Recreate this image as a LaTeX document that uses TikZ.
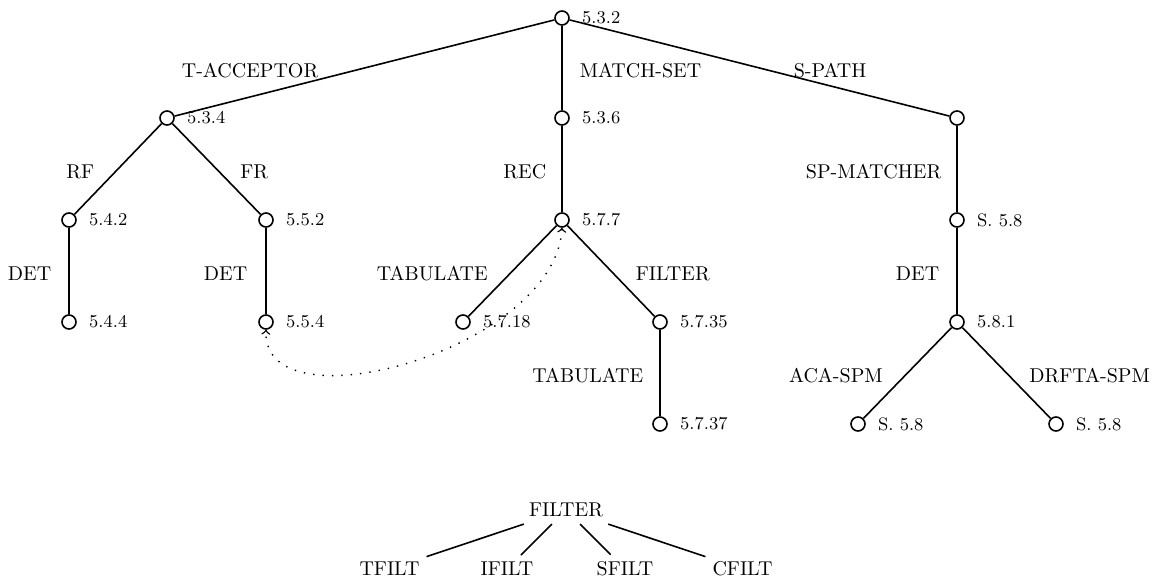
\documentclass[tikz,border=0pt]{standalone}
\usetikzlibrary{positioning}

\tikzset{
  vtx/.style={circle, draw, thick, inner sep=0pt, minimum size=7pt},
  num/.style={font=\small, inner sep=1pt},
  elbl/.style={inner sep=0pt, yshift=-1.5pt},
  branch/.style={thick},
}

\begin{document}
\begin{tikzpicture}[x=0.5pt, y=-0.5pt]
    \useasboundingbox (0,0) rectangle (1161,581);

    % Vertices of the main tree
    \node[vtx] (n532) at (562,18) {};
    \node[vtx] (n534) at (167,118) {};
    \node[vtx] (n536) at (562,118) {};
    \node[vtx] (nsp) at (957,118) {};
    \node[vtx] (n542) at (69,220) {};
    \node[vtx] (n552) at (266,220) {};
    \node[vtx] (n577) at (562,220) {};
    \node[vtx] (ns58) at (957,220) {};
    \node[vtx] (n544) at (69,322) {};
    \node[vtx] (n554) at (266,322) {};
    \node[vtx] (n5718) at (463,322) {};
    \node[vtx] (n5735) at (660,322) {};
    \node[vtx] (n581) at (957,322) {};
    \node[vtx] (n5737) at (660,424) {};
    \node[vtx] (nacs) at (858,424) {};
    \node[vtx] (ndrs) at (1056,424) {};

    % Section numbers
    \node[num, right=5pt of n532] (t532) {5.3.2};
    \node[num, right=5pt of n534] (t534) {5.3.4};
    \node[num, right=5pt of n536] (t536) {5.3.6};
    \node[num, right=5pt of n542] (t542) {5.4.2};
    \node[num, right=5pt of n552] (t552) {5.5.2};
    \node[num, right=5pt of n577] (t577) {5.7.7};
    \node[num, right=5pt of ns58] (ts58) {S. 5.8};
    \node[num, right=5pt of n544] (t544) {5.4.4};
    \node[num, right=5pt of n554] (t554) {5.5.4};
    \node[num, right=5pt of n5718] (t5718) {5.7.18};
    \node[num, right=5pt of n5735] (t5735) {5.7.35};
    \node[num, right=5pt of n581] (t581) {5.8.1};
    \node[num, right=5pt of n5737] (t5737) {5.7.37};
    \node[num, right=5pt of nacs] (tacs) {S. 5.8};
    \node[num, right=5pt of ndrs] (tdrs) {S. 5.8};

    % Branches
    \draw[branch] (n532) -- node[elbl, anchor=east, xshift=-22.75pt] (lta) {T-ACCEPTOR} (n534);
    \draw[branch] (n532) -- node[elbl, anchor=west, xshift=8.5pt] (lms) {MATCH-SET} (n536);
    \draw[branch] (n532) -- node[elbl, anchor=west, xshift=16.75pt] (lsp) {S-PATH} (nsp);
    \draw[branch] (n534) -- node[elbl, anchor=east, xshift=-11.5pt] (lrf) {RF} (n542);
    \draw[branch] (n534) -- node[elbl, anchor=west, xshift=11.5pt] (lfr) {FR} (n552);
    \draw[branch] (n536) -- node[elbl, anchor=east, xshift=-7.5pt] (lrec) {REC} (n577);
    \draw[branch] (nsp) -- node[elbl, anchor=east, xshift=-7.5pt] (lspm) {SP-MATCHER} (ns58);
    \draw[branch] (n542) -- node[elbl, anchor=east, xshift=-8.5pt] (ldeta) {DET} (n544);
    \draw[branch] (n552) -- node[elbl, anchor=east, xshift=-9pt] (ldetb) {DET} (n554);
    \draw[branch] (n577) -- node[elbl, anchor=east, xshift=-12pt] (ltaba) {TABULATE} (n5718);
    \draw[branch] (n577) -- node[elbl, anchor=west, xshift=12pt] (lfil) {FILTER} (n5735);
    \draw[branch] (ns58) -- node[elbl, anchor=east, xshift=-8.5pt] (ldetc) {DET} (n581);
    \draw[branch] (n5735) -- node[elbl, anchor=east, xshift=-8pt] (ltabb) {TABULATE} (n5737);
    \draw[branch] (n581) -- node[elbl, anchor=east, xshift=-12pt] (laca) {ACA-SPM} (nacs);
    \draw[branch] (n581) -- node[elbl, anchor=west, xshift=11pt] (ldrf) {DRFTA-SPM} (ndrs);

    % Dotted back link
    \draw[<->, loosely dotted, line width=0.7pt] (n577.south) .. controls (555,350) and (262,430) .. (n554.south);

    % FILTER subtree
    \node (ffilter) at (566,510) {FILTER};
    \foreach \nm/\txt/\x in {tfilt/TFILT/389.5, ifilt/IFILT/507, sfilt/SFILT/625, cfilt/CFILT/742.5} {
        \node (\nm) at (\x,569) {\txt};
        \draw[branch] (ffilter) -- (\nm);
    }
\end{tikzpicture}
\end{document}
